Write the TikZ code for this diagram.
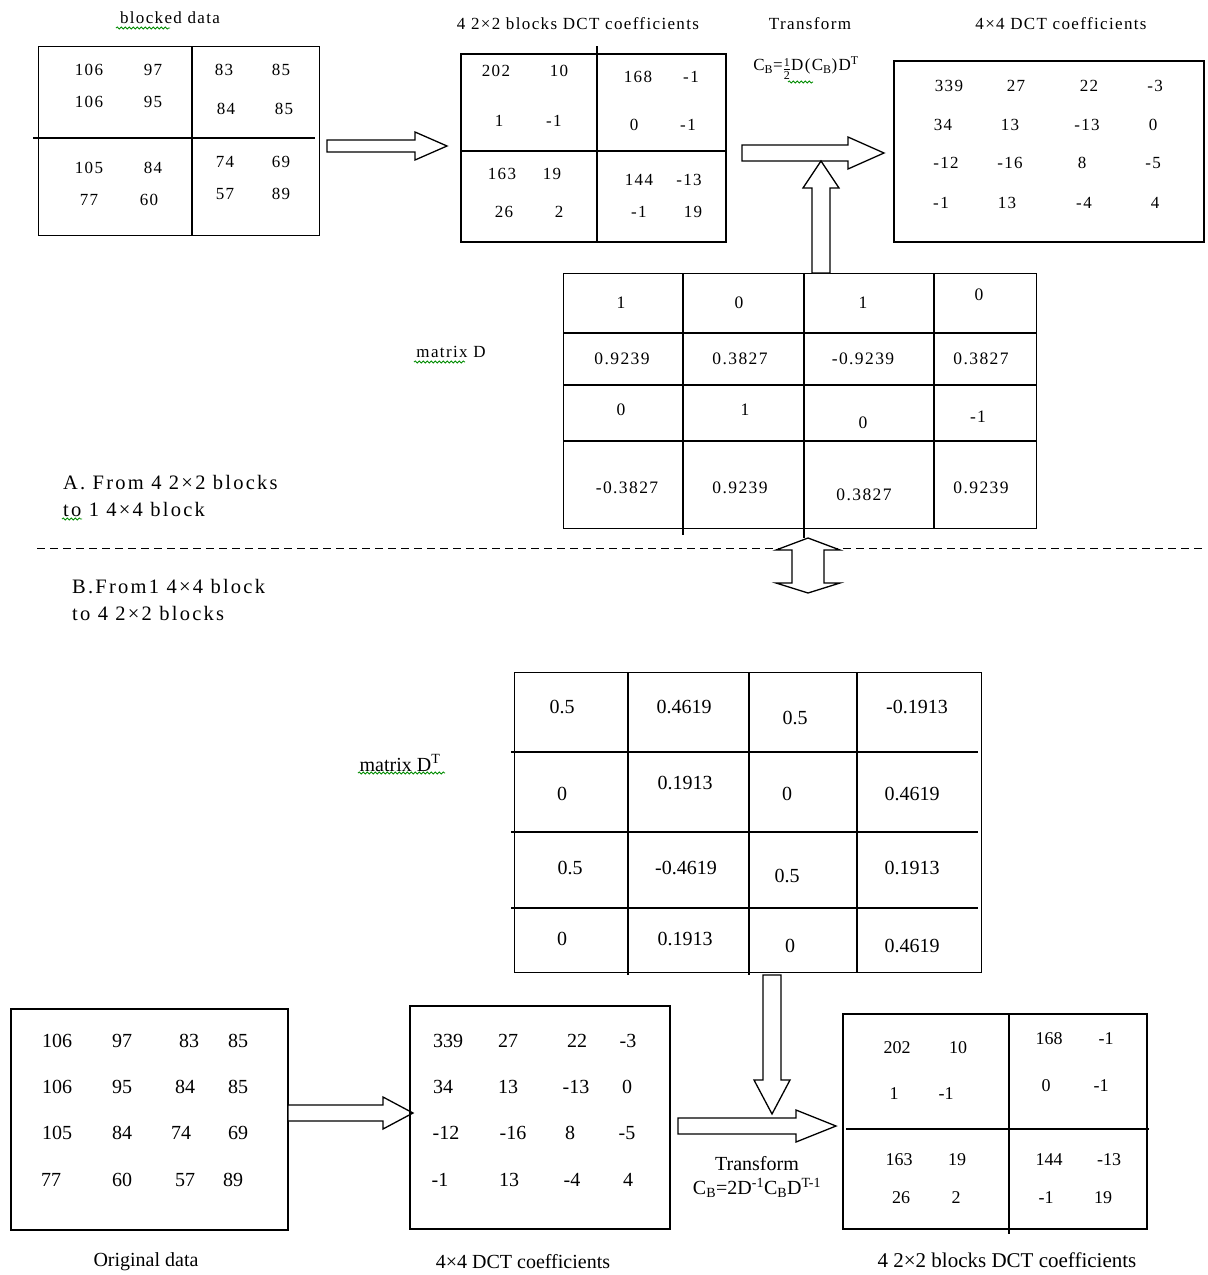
\documentclass[tikz,border=0pt]{standalone}
\usepackage{fontspec}
\setmainfont{Liberation Serif}
\newfontfamily\spacedfont{Liberation Serif}[LetterSpace=8]
\newfontfamily\widefont{Liberation Serif}[LetterSpace=11]
\usetikzlibrary{decorations.pathmorphing}

% hollow block arrows
\newcommand\rightblock[6]{% x0, x1, y, shaft half-width, head half-width, head length
  \draw[blockarrow] (#1,#3-#4) -- (#2-#6,#3-#4) -- (#2-#6,#3-#5) -- (#2,#3)
    -- (#2-#6,#3+#5) -- (#2-#6,#3+#4) -- (#1,#3+#4) -- cycle;}
\newcommand\upblock[6]{% x, y bottom, y tip, shaft half-width, head half-width, head length
  \draw[blockarrow] (#1-#4,#2) -- (#1-#4,#3+#6) -- (#1-#5,#3+#6) -- (#1,#3)
    -- (#1+#5,#3+#6) -- (#1+#4,#3+#6) -- (#1+#4,#2) -- cycle;}
\newcommand\downblock[6]{% x, y top, y tip, shaft half-width, head half-width, head length
  \draw[blockarrow] (#1-#4,#2) -- (#1-#4,#3-#6) -- (#1-#5,#3-#6) -- (#1,#3)
    -- (#1+#5,#3-#6) -- (#1+#4,#3-#6) -- (#1+#4,#2) -- cycle;}
\newcommand\halfsize{\raisebox{-0.4ex}{$\frac{\mbox{\fontsize{12}{12}\selectfont 1}}{\mbox{\fontsize{12}{12}\selectfont 2}}$}}

\tikzset{
  frame/.style={draw, line width=1.3pt, inner sep=0pt},
  thickframe/.style={draw, line width=2.4pt, inner sep=0pt},
  rule/.style={line width=1.3pt},
  blockarrow/.style={draw, line width=1.3pt, fill=white, line join=miter},
  topnum/.style={font=\spacedfont\fontsize{17}{17}\selectfont, inner sep=0pt},
  dnum/.style={font=\spacedfont\fontsize{17.5}{17.5}\selectfont, inner sep=0pt},
  botnum/.style={font=\fontsize{20}{20}\selectfont, inner sep=0pt},
  smallbotnum/.style={font=\fontsize{18}{18}\selectfont, inner sep=0pt},
  toplabel/.style={font=\spacedfont\fontsize{17}{17}\selectfont, inner sep=0pt},
  sectlabel/.style={font=\widefont\fontsize{20.5}{20.5}\selectfont, inner sep=0pt, anchor=west},
  botlabel/.style={font=\fontsize{20}{20}\selectfont, inner sep=0pt},
  squig/.style={draw=green!55!black, line width=0.8pt, decorate,
    decoration={snake, amplitude=1.1pt, segment length=4pt}}
}

\begin{document}
\begin{tikzpicture}[x=1pt, y=-1pt]
\useasboundingbox[fill=white] (0,0) rectangle (1208,1275);

% ---------- A: four 2x2 blocks to one 4x4 block ----------
\node[toplabel] (lblBlocked) at (170,18) {blocked data};
\draw[squig] (116,28) -- (170,28);
\node[frame, anchor=north west, minimum width=281pt, minimum height=189pt] (blocked) at (38,46) {};
\draw[rule] (192,46) -- (192,235);
\draw[rule] (33,138) -- (315,138);
\foreach \x/\y/\txt in {89/70/106, 153/70/97, 224/70/83, 281/70/85,
  89/102/106, 153/102/95, 226/109/84, 284/109/85,
  89/168/105, 153/168/84, 225/162/74, 281/162/69,
  89/200/77, 149/200/60, 225/194/57, 281/194/89}
  \node[topnum] (b-\x-\y) at (\x,\y) {\txt};

\rightblock{327}{447}{146}{6}{14}{32}

\node[toplabel] (lblCoefA) at (578,24) {4 2×2 blocks DCT coefficients};
\node[thickframe, anchor=north west, minimum width=265pt, minimum height=188pt] (coefA) at (460,53) {};
\draw[rule] (597,46) -- (597,241);
\draw[rule] (460,151) -- (725,151);
\foreach \x/\y/\txt in {496/71/202, 559/71/10, 499/121/1, 554/121/-1,
  638/77/168, 691/77/-1, 634/125/0, 688/125/-1,
  502/174/163, 552/174/19, 504/212/26, 559/212/2,
  639/180/144, 689/180/-13, 639/212/-1, 693/212/19}
  \node[topnum] (ca-\x-\y) at (\x,\y) {\txt};

\node[toplabel] (lblTransA) at (810,24) {Transform};
\node[toplabel] (formA) at (806,68) {C\textsubscript{B}=\halfsize D(C\textsubscript{B})D\textsuperscript{T}};
\draw[squig] (788,82) -- (813,82);

\rightblock{742}{884}{153}{8}{16}{36}

\node[toplabel] (lblFullA) at (1061,24) {4×4 DCT coefficients};
\node[thickframe, anchor=north west, minimum width=310pt, minimum height=181pt] (fullA) at (893,60) {};
\foreach \x/\y/\txt in {949/86/339, 1016/86/27, 1089/86/22, 1155/86/-3,
  943/125/34, 1010/125/13, 1087/125/-13, 1153/125/0,
  946/163/-12, 1010/163/-16, 1082/163/8, 1153/163/-5,
  941/203/-1, 1007/203/13, 1084/203/-4, 1155/203/4}
  \node[topnum] (fa-\x-\y) at (\x,\y) {\txt};

% matrix D
\node[frame, anchor=north west, minimum width=473pt, minimum height=255pt] (matD) at (563,273) {};
\draw[rule] (683,273) -- (683,535);
\draw[rule] (804,273) -- (804,538);
\draw[rule] (934,273) -- (934,528);
\draw[rule] (563,333) -- (1036,333);
\draw[rule] (563,385) -- (1036,385);
\draw[rule] (563,441) -- (1036,441);
\foreach \x/\y/\txt in {621/303/1, 739/303/0, 863/303/1, 979/295/0,
  622/359/0.9239, 740/359/0.3827, 863/359/-0.9239, 981/359/0.3827,
  621/410/0, 745/410/1, 863/423/0, 978/417/-1,
  627/488/-0.3827, 740/488/0.9239, 864/495/0.3827, 981/488/0.9239}
  \node[dnum] (d-\x-\y) at (\x,\y) {\txt};
\node[toplabel] (lblD) at (451,352) {matrix D};
\draw[squig] (414,362) -- (465,362);

\upblock{821}{273}{161}{9}{18}{27}

\node[sectlabel] (secA1) at (63,483) {A. From 4 2×2 blocks};
\node[sectlabel] (secA2) at (63,509) {to 1 4×4 block};
\draw[squig] (62,519) -- (82,519);

% ---------- separator ----------
\draw[line width=1pt, dash pattern=on 8pt off 5pt] (37,548) -- (1206,548);
\draw[blockarrow] (808,538) -- (840,550) -- (824,550) -- (824,583) -- (840,583)
  -- (808,593) -- (776,583) -- (792,583) -- (792,550) -- (776,550) -- cycle;

% ---------- B: one 4x4 block to four 2x2 blocks ----------
\node[sectlabel] (secB1) at (72,587) {B.From1 4×4 block};
\node[sectlabel] (secB2) at (72,613) {to 4 2×2 blocks};

% matrix D transposed
\node[frame, anchor=north west, minimum width=467pt, minimum height=300pt] (matDT) at (514,672) {};
\draw[rule] (628,672) -- (628,975);
\draw[rule] (749,672) -- (749,975);
\draw[rule] (857,672) -- (857,972);
\draw[rule] (511,752) -- (978,752);
\draw[rule] (511,832) -- (978,832);
\draw[rule] (511,908) -- (978,908);
\foreach \x/\y/\txt in {562/707/0.5, 684/707/0.4619, 795/718/0.5, 917/707/-0.1913,
  562/794/0, 685/783/0.1913, 787/794/0, 912/794/0.4619,
  570/868/0.5, 686/868/-0.4619, 787/876/0.5, 912/868/0.1913,
  562/939/0, 685/939/0.1913, 790/946/0, 912/946/0.4619}
  \node[botnum] (dt-\x-\y) at (\x,\y) {\txt};
\node[botlabel] (lblDT) at (400,763) {matrix D\textsuperscript{T}};
\draw[squig] (358,773) -- (445,773);

\downblock{772}{975}{1114}{9}{18}{34}

% original data
\node[frame, line width=2pt, anchor=north west, minimum width=277pt, minimum height=221pt] (orig) at (10,1008) {};
\foreach \x/\y/\txt in {57/1041/106, 122/1041/97, 189/1041/83, 238/1041/85,
  57/1087/106, 122/1087/95, 185/1087/84, 238/1087/85,
  57/1133/105, 122/1133/84, 181/1133/74, 238/1133/69,
  51/1180/77, 122/1180/60, 185/1180/57, 233/1180/89}
  \node[botnum] (o-\x-\y) at (\x,\y) {\txt};
\node[botlabel] (lblOrig) at (146,1262) {Original data};

\rightblock{288}{413}{1113}{8}{16}{30}

% 4x4 coefficients
\node[frame, line width=2pt, anchor=north west, minimum width=260pt, minimum height=223pt] (fullB) at (409,1005) {};
\foreach \x/\y/\txt in {448/1041/339, 508/1041/27, 577/1041/22, 628/1041/-3,
  443/1087/34, 508/1087/13, 576/1087/-13, 627/1087/0,
  446/1133/-12, 513/1133/-16, 570/1133/8, 627/1133/-5,
  440/1180/-1, 509/1180/13, 572/1180/-4, 628/1180/4}
  \node[botnum] (fb-\x-\y) at (\x,\y) {\txt};
\node[botlabel] (lblFullB) at (523,1262) {4×4 DCT coefficients};

\rightblock{678}{836}{1126}{8}{16}{40}

\node[botlabel] (lblTransB) at (757,1164) {Transform};
\node[botlabel] (formB) at (757,1188) {C\textsubscript{B}=2D\textsuperscript{-1}C\textsubscript{B}D\textsuperscript{T-1}};

% four 2x2 blocks
\node[thickframe, anchor=north west, minimum width=304pt, minimum height=215pt] (coefB) at (842,1013) {};
\draw[rule] (1009,1013) -- (1009,1234);
\draw[rule] (846,1129) -- (1149,1129);
\foreach \x/\y/\txt in {897/1048/202, 958/1048/10, 894/1094/1, 946/1094/-1,
  1049/1039/168, 1106/1039/-1, 1046/1086/0, 1101/1086/-1,
  899/1160/163, 957/1160/19, 901/1198/26, 956/1198/2,
  1049/1160/144, 1109/1160/-13, 1046/1198/-1, 1103/1198/19}
  \node[smallbotnum] (cb-\x-\y) at (\x,\y) {\txt};
\node[font=\fontsize{21}{21}\selectfont, inner sep=0pt] (lblCoefB) at (1007,1260) {4 2×2 blocks DCT coefficients};
\end{tikzpicture}
\end{document}
